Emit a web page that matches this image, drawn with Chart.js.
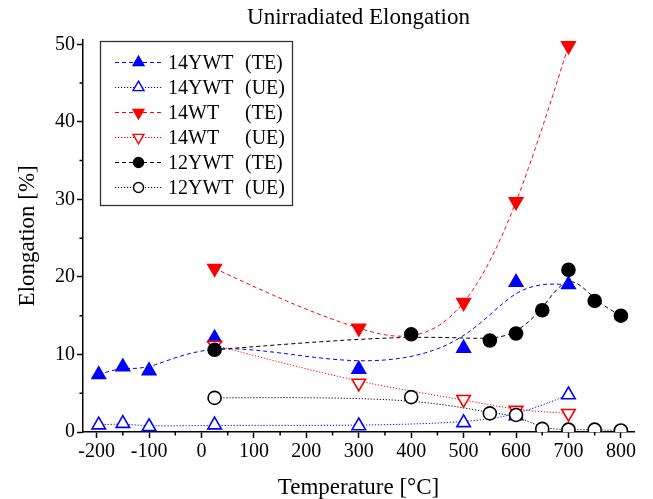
<!DOCTYPE html>
<html><head><meta charset="utf-8">
<script src="https://cdn.jsdelivr.net/npm/chart.js@4.4.0/dist/chart.umd.min.js"></script>
<style>html,body{margin:0;padding:0;background:#fff}</style>
</head><body>
<canvas id="c" width="653" height="499"></canvas>
<script>
// ---- data ----
const titleText = 'Unirradiated Elongation';
const xTitle = 'Temperature [°C]';
const yTitle = 'Elongation [%]';

const temp14YWT = [-196, -150, -100, 25, 300, 500, 600, 700];
const te14YWT   = [7.4, 8.4, 7.9, 12.1, 8.1, 10.8, 19.3, 19.0];
const ue14YWT   = [0.9, 1.1, 0.7, 0.9, 0.8, 1.2, 2.1, 4.8];

const temp14WT  = [25, 300, 500, 600, 700];
const te14WT    = [21.1, 13.4, 16.7, 29.7, 49.8];
const ue14WT    = [11.2, 6.3, 4.2, 2.8, 2.4];

const temp12YWT = [25, 400, 550, 600, 650, 700, 750, 800];
const te12YWT   = [10.6, 12.6, 11.8, 12.7, 15.7, 20.9, 16.9, 15.0];
const ue12YWT   = [4.4, 4.5, 2.4, 2.2, 0.4, 0.3, 0.3, 0.2];

const seriesNames = ['14YWT', '14YWT', '14WT', '14WT', '12YWT', '12YWT'];
const seriesTypes = ['(TE)', '(UE)', '(TE)', '(UE)', '(TE)', '(UE)'];

const xMin = -226, xMax = 825, xStep = 100;
const yMin = 0, yMax = 50.6, yStep = 10;

// ---- styling ----
const SERIF = "'Liberation Serif', 'Times New Roman', serif";
const BLUE = '#0000ff', RED = '#ff0000', BLACK = '#000000';
const DASH = [4, 3], DOT = [1.2, 1.8];

function pts(xs, ys) { return xs.map((x, i) => ({x: x, y: ys[i]})); }

function mk(idx, xs, ys, color, filled, style, rot, dash, curve) {
  return {
    label: seriesNames[idx] + '  ' + seriesTypes[idx],
    data: pts(xs, ys),
    showLine: false,
    borderColor: color,
    backgroundColor: filled ? color : '#ffffff',
    pointBackgroundColor: filled ? color : '#ffffff',
    pointBorderColor: color,
    pointBorderWidth: 1.6,
    pointStyle: style,
    pointRotation: rot,
    pointRadius: style === 'circle' ? 6.5 : 7.8,
    pointHoverRadius: style === 'circle' ? 6.5 : 7.8,
    borderDash: dash,
    curveKind: curve,
    order: -idx,
    clip: {left: 12, right: 12, top: 12, bottom: 0}
  };
}

const datasets = [
  mk(0, temp14YWT, te14YWT, BLUE, true, 'triangle', 0, DASH, 'bspline'),
  mk(1, temp14YWT, ue14YWT, BLUE, false, 'triangle', 0, DOT, 'bspline'),
  mk(2, temp14WT, te14WT, RED, true, 'triangle', 180, DASH, 'spline'),
  mk(3, temp14WT, ue14WT, RED, false, 'triangle', 180, DOT, 'bspline'),
  mk(4, temp12YWT, te12YWT, BLACK, true, 'circle', 0, DASH, 'bspline'),
  mk(5, temp12YWT, ue12YWT, BLACK, false, 'circle', 0, DOT, 'bspline')
];

// ---- connecting curves (computed from the library's point pixels) ----
function drawBSpline(ctx, p) {
  const q = [p[0], p[0]].concat(p, [p[p.length - 1], p[p.length - 1]]);
  ctx.moveTo(p[0].x, p[0].y);
  for (let i = 1; i < q.length - 2; i++) {
    const b = q[i], c = q[i + 1], d = q[i + 2];
    const c1 = {x: (2 * b.x + c.x) / 3, y: (2 * b.y + c.y) / 3};
    const c2 = {x: (b.x + 2 * c.x) / 3, y: (b.y + 2 * c.y) / 3};
    const e = {x: (b.x + 4 * c.x + d.x) / 6, y: (b.y + 4 * c.y + d.y) / 6};
    ctx.bezierCurveTo(c1.x, c1.y, c2.x, c2.y, e.x, e.y);
  }
}
function drawNaturalSpline(ctx, p) {
  const n = p.length;
  const h = [], al = [], l = [], mu = [], z = [], c = [], b = [], d = [];
  for (let i = 0; i < n - 1; i++) h[i] = p[i + 1].x - p[i].x;
  for (let i = 1; i < n - 1; i++) al[i] = 3 / h[i] * (p[i + 1].y - p[i].y) - 3 / h[i - 1] * (p[i].y - p[i - 1].y);
  l[0] = 1; mu[0] = 0; z[0] = 0;
  for (let i = 1; i < n - 1; i++) {
    l[i] = 2 * (p[i + 1].x - p[i - 1].x) - h[i - 1] * mu[i - 1];
    mu[i] = h[i] / l[i];
    z[i] = (al[i] - h[i - 1] * z[i - 1]) / l[i];
  }
  l[n - 1] = 1; z[n - 1] = 0; c[n - 1] = 0;
  for (let j = n - 2; j >= 0; j--) {
    c[j] = z[j] - mu[j] * c[j + 1];
    b[j] = (p[j + 1].y - p[j].y) / h[j] - h[j] * (c[j + 1] + 2 * c[j]) / 3;
    d[j] = (c[j + 1] - c[j]) / (3 * h[j]);
  }
  ctx.moveTo(p[0].x, p[0].y);
  for (let j = 0; j < n - 1; j++) {
    const steps = 30;
    for (let s = 1; s <= steps; s++) {
      const t = h[j] * s / steps;
      ctx.lineTo(p[j].x + t, p[j].y + b[j] * t + c[j] * t * t + d[j] * t * t * t);
    }
  }
}

const curvePlugin = {
  id: 'curves',
  beforeDatasetsDraw(chart) {
    const ctx = chart.ctx, a = chart.chartArea;
    ctx.save();
    ctx.beginPath();
    ctx.rect(a.left, a.top - 12, a.right - a.left, a.bottom - a.top + 12);
    ctx.clip();
    chart.data.datasets.forEach((ds, i) => {
      const meta = chart.getDatasetMeta(i);
      const p = meta.data.map(e => ({x: e.x, y: e.y}));
      ctx.beginPath();
      ctx.strokeStyle = ds.borderColor;
      ctx.lineWidth = 1;
      ctx.setLineDash(ds.borderDash);
      if (ds.curveKind === 'spline') drawNaturalSpline(ctx, p); else drawBSpline(ctx, p);
      ctx.stroke();
    });
    ctx.restore();
  }
};

// minor ticks halfway between labelled ticks
const minorTickPlugin = {
  id: 'minorTicks',
  afterDraw(chart) {
    const ctx = chart.ctx;
    const xs = chart.scales.x, ys = chart.scales.y;
    ctx.save();
    ctx.strokeStyle = '#000';
    ctx.lineWidth = 1.5;
    ctx.beginPath();
    const xt = xs.ticks.map(t => t.value);
    for (let i = 0; i < xt.length - 1; i++) {
      const px = xs.getPixelForValue((xt[i] + xt[i + 1]) / 2);
      ctx.moveTo(px, xs.top); ctx.lineTo(px, xs.top + 3.5);
    }
    const yt = ys.ticks.map(t => t.value);
    for (let i = 0; i < yt.length - 1; i++) {
      const py = ys.getPixelForValue((yt[i] + yt[i + 1]) / 2);
      ctx.moveTo(ys.right, py); ctx.lineTo(ys.right - 3.5, py);
    }
    ctx.stroke();
    ctx.restore();
  }
};

// legend box inside the plot
const legendPlugin = {
  id: 'boxLegend',
  afterDraw(chart) {
    const ctx = chart.ctx;
    const box = {x: 100.5, y: 41.5, w: 192, h: 164};
    ctx.save();
    ctx.fillStyle = '#fff';
    ctx.fillRect(box.x, box.y, box.w, box.h);
    ctx.strokeStyle = '#333';
    ctx.lineWidth = 1.3;
    ctx.setLineDash([]);
    ctx.strokeRect(box.x, box.y, box.w, box.h);
    chart.data.datasets.forEach((ds, i) => {
      const y = 62.5 + 25 * i;
      ctx.beginPath();
      ctx.strokeStyle = ds.borderColor;
      ctx.lineWidth = 1;
      ctx.setLineDash(ds.borderDash);
      ctx.moveTo(115, y); ctx.lineTo(162, y);
      ctx.stroke();
      ctx.setLineDash([]);
      ctx.fillStyle = ds.pointBackgroundColor;
      ctx.strokeStyle = ds.pointBorderColor;
      ctx.lineWidth = 1.4;
      Chart.helpers.drawPoint(ctx, {
        pointStyle: ds.pointStyle, rotation: ds.pointRotation,
        radius: ds.pointStyle === 'circle' ? 5 : 6.3, borderWidth: 1.4
      }, 138.5, y);
      ctx.fillStyle = '#000';
      ctx.font = '20px ' + SERIF;
      ctx.textBaseline = 'middle';
      ctx.textAlign = 'left';
      ctx.fillText(seriesNames[i], 168, y + 1);
      ctx.fillText(seriesTypes[i], 245, y + 1);
    });
    ctx.restore();
  }
};

new Chart(document.getElementById('c'), {
  type: 'scatter',
  data: {datasets: datasets},
  plugins: [curvePlugin, minorTickPlugin, legendPlugin],
  options: {
    responsive: false,
    animation: false,
    events: [],
    layout: {padding: {left: 0, right: 19, top: 0, bottom: 0}},
    plugins: {
      legend: {display: false},
      tooltip: {enabled: false},
      title: {
        display: true, text: titleText, color: '#000', fullSize: false,
        font: {family: SERIF, size: 23, weight: 'normal', lineHeight: 1.2},
        padding: {top: 4, bottom: 8}
      }
    },
    scales: {
      x: {
        type: 'linear', min: xMin, max: xMax,
        afterFit(s) { s.height = 67; },
        border: {display: true, color: '#000', width: 1.5},
        grid: {display: true, drawOnChartArea: false, drawTicks: true, tickLength: 6, tickColor: '#000', tickWidth: 1.5},
        ticks: {stepSize: xStep, includeBounds: false, color: '#000', font: {family: SERIF, size: 20}, padding: 2, maxRotation: 0, autoSkip: false},
        title: {display: true, text: xTitle, color: '#000', font: {family: SERIF, size: 23, lineHeight: 1}, padding: {top: 0, bottom: 0}}
      },
      y: {
        type: 'linear', min: yMin, max: yMax,
        afterFit(s) { s.width = 83; },
        border: {display: true, color: '#000', width: 1.5},
        grid: {display: true, drawOnChartArea: false, drawTicks: true, tickLength: 6, tickColor: '#000', tickWidth: 1.5},
        ticks: {stepSize: yStep, includeBounds: false, color: '#000', font: {family: SERIF, size: 20}, padding: 2},
        title: {display: true, text: yTitle, color: '#000', font: {family: SERIF, size: 23, lineHeight: 1}, padding: {top: 16, bottom: 0}}
      }
    }
  }
});
</script>
</body></html>
